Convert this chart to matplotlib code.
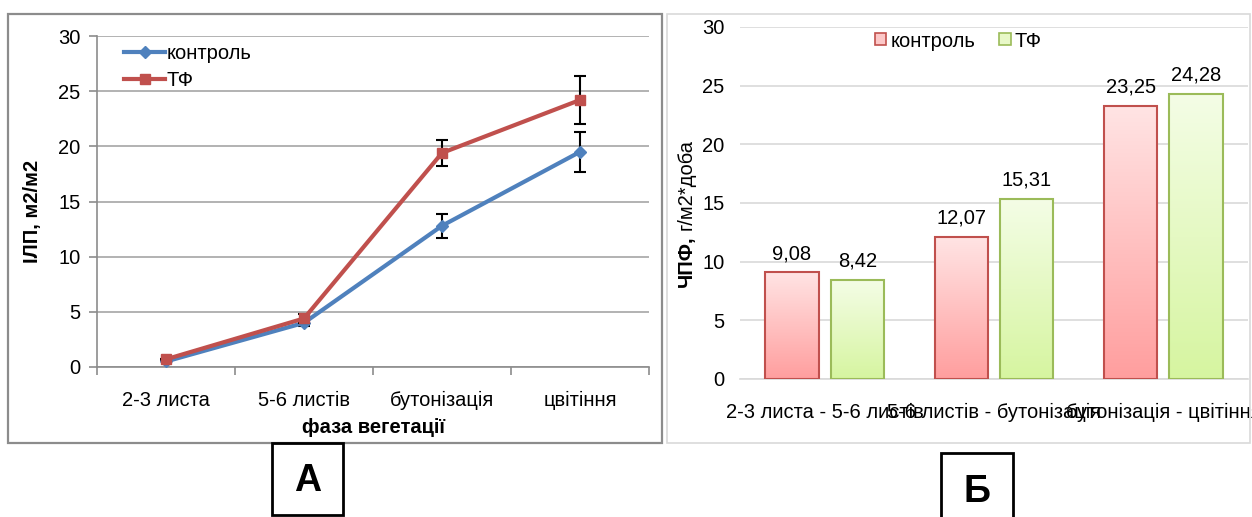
import matplotlib
matplotlib.use("Agg")
import matplotlib.pyplot as plt
import numpy as np
from matplotlib.patches import Rectangle
from matplotlib.colors import LinearSegmentedColormap
from matplotlib.lines import Line2D

plt.rcParams['font.family'] = ['Liberation Sans', 'DejaVu Sans']

# ---- panel A: leaf area index by growth phase ----
phases = ["2-3 листа", "5-6 листів", "бутонізація", "цвітіння"]
ilp_control = [0.5, 4.0, 12.8, 19.5]
ilp_control_err = [0.0, 0.3, 1.1, 1.8]
ilp_tf = [0.7, 4.4, 19.4, 24.2]
ilp_tf_err = [0.0, 0.4, 1.2, 2.2]

# ---- panel B: net photosynthetic productivity by interval ----
intervals = ["2-3 листа - 5-6 листів", "5-6 листів - бутонізація", "бутонізація - цвітіння"]
chpf_control = [9.08, 12.07, 23.25]
chpf_tf = [8.42, 15.31, 24.28]
series_names = ["контроль", "ТФ"]

W, H = 1252, 517
fig = plt.figure(figsize=(W / 100, H / 100), dpi=100)


def fx(px):
    return px / W


def fy(py):
    return 1 - py / H


def frame(x0, y0, x1, y1, color, lw):
    fig.patches.append(Rectangle((fx(x0), fy(y1)), fx(x1) - fx(x0), fy(y0) - fy(y1),
                                 transform=fig.transFigure, fill=False,
                                 edgecolor=color, linewidth=lw, zorder=0))


# outer frames of both panels
frame(8, 14, 662, 443, "#8c8c8c", 1.6)
frame(667, 14, 1250, 443, "#d9d9d9", 1.2)

FS = 14.5

# ================= panel A =================
axA = fig.add_axes([fx(97), fy(367), fx(649) - fx(97), fy(36) - fy(367)])
xA = np.arange(len(phases))
blue, red = "#4f81bd", "#c0504d"
axA.errorbar(xA, ilp_control, yerr=ilp_control_err, color=blue, lw=3, marker="D",
             ms=6, ecolor="black", elinewidth=1.5, capsize=4, capthick=1.5, zorder=3,
             label=series_names[0])
axA.errorbar(xA, ilp_tf, yerr=ilp_tf_err, color=red, lw=3, marker="s",
             ms=7, ecolor="black", elinewidth=1.5, capsize=4, capthick=1.5, zorder=4,
             label=series_names[1])
axA.set_xlim(-0.5, len(phases) - 0.5)
axA.set_ylim(0, 30)
axA.set_yticks(range(0, 31, 5))
axA.grid(axis="y", color="#a6a6a6", lw=1.2)
axA.set_axisbelow(True)
for s in ["top", "right"]:
    axA.spines[s].set_visible(False)
axA.spines["left"].set_color("#8c8c8c")
axA.spines["bottom"].set_color("#8c8c8c")
axA.spines["left"].set_linewidth(1.2)
axA.spines["bottom"].set_linewidth(1.2)
axA.set_xticks(xA)
axA.set_xticklabels(phases, fontsize=FS)
axA.set_xticks(np.arange(-0.5, len(phases), 1.0), minor=True)
axA.tick_params(axis="x", which="major", length=0, pad=17)
axA.tick_params(axis="x", which="minor", length=6, color="#8c8c8c", width=1.2)
axA.tick_params(axis="y", length=6, color="#8c8c8c", width=1.2, labelsize=FS, pad=6)
axA.set_xlabel("фаза вегетації", fontsize=FS, fontweight="bold", labelpad=6)
axA.set_ylabel("ІЛП, м2/м2", fontsize=FS, fontweight="bold")
axA.yaxis.set_label_coords(-0.1, 0.47)

handlesA = [Line2D([], [], color=blue, lw=3, marker="D", ms=6),
            Line2D([], [], color=red, lw=3, marker="s", ms=7)]
axA.legend(handlesA, series_names, loc="upper left", bbox_to_anchor=(0.035, 1.0),
           frameon=False, fontsize=FS, handlelength=2.0, handletextpad=0.1,
           labelspacing=0.4, borderaxespad=0)

# ================= panel B =================
axB = fig.add_axes([fx(740), fy(379), fx(1248) - fx(740), fy(27) - fy(379)])
xB = np.arange(len(intervals))
bw = 0.314
off = 0.193
axB.set_xlim(-0.5, len(intervals) - 0.5)
axB.set_ylim(0, 30)

red_cmap = LinearSegmentedColormap.from_list("rg", ["#ff9e9e", "#ffe4e4"])
green_cmap = LinearSegmentedColormap.from_list("gg", ["#d6f5a0", "#f4fde6"])


def gradient_bars(xs, vals, cmap, edge):
    bars = axB.bar(xs, vals, width=bw, facecolor="none", edgecolor=edge, lw=1.5, zorder=3)
    grad = np.linspace(0, 1, 256).reshape(-1, 1)
    for b in bars:
        x0, y0 = b.get_x(), b.get_y()
        w, h = b.get_width(), b.get_height()
        im = axB.imshow(grad, cmap=cmap, origin="lower", aspect="auto",
                        extent=(x0, x0 + w, y0, y0 + h), zorder=2)
        im.set_clip_path(b)
    for x, v in zip(xs, vals):
        axB.text(x, v + 0.8, f"{v:.2f}".replace(".", ","), ha="center", va="bottom",
                 fontsize=FS, zorder=4)


gradient_bars(xB - off, chpf_control, red_cmap, "#c0504d")
gradient_bars(xB + off, chpf_tf, green_cmap, "#9bbb59")
axB.set_xlim(-0.5, len(intervals) - 0.5)
axB.set_ylim(0, 30)
axB.set_yticks(range(0, 31, 5))
axB.grid(axis="y", color="#d9d9d9", lw=1.2)
axB.set_axisbelow(True)
for s in ["top", "right", "left"]:
    axB.spines[s].set_visible(False)
axB.spines["bottom"].set_color("#d9d9d9")
axB.spines["bottom"].set_linewidth(1.2)
axB.set_xticks(xB)
axB.set_xticklabels(intervals, fontsize=FS)
axB.tick_params(axis="x", length=0, pad=17)
axB.tick_params(axis="y", length=0, labelsize=FS, pad=11)

handlesB = [Rectangle((0, 0), 1, 1, facecolor="#fcc8c8", edgecolor="#c0504d", lw=1.2),
            Rectangle((0, 0), 1, 1, facecolor="#e8f8c8", edgecolor="#9bbb59", lw=1.2)]
axB.legend(handlesB, series_names, loc="upper center", bbox_to_anchor=(0.43, 1.01),
           ncol=2, frameon=False, fontsize=FS, handlelength=0.55, handleheight=0.55,
           handletextpad=0.2, columnspacing=1.2, borderaxespad=0)

# y label of panel B: bold symbol, regular units
fig.canvas.draw()
renderer = fig.canvas.get_renderer()
t1 = fig.text(fx(686), fy(287), "ЧПФ,", rotation=90, ha="center", va="bottom",
              fontsize=FS, fontweight="bold")
ext = t1.get_window_extent(renderer)
fig.text(fx(686), (ext.y1 + 5) / H, "г/м2*доба", rotation=90, ha="center", va="bottom",
         fontsize=FS)

# panel markers
frame(272, 443, 343, 515, "black", 2.0)
fig.text(fx(307.5), fy(481), "А", ha="center", va="center", fontsize=27, fontweight="bold")
frame(941, 453, 1013, 530, "black", 2.0)
fig.text(fx(977), fy(492), "Б", ha="center", va="center", fontsize=27, fontweight="bold")

fig.savefig("out.png", dpi=100)
